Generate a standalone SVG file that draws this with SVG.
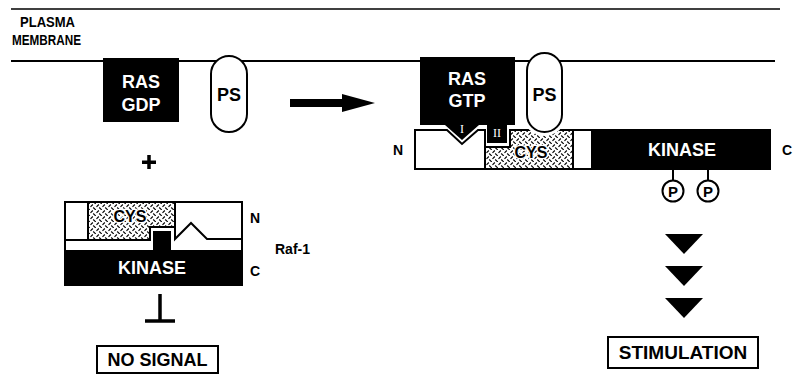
<svg xmlns="http://www.w3.org/2000/svg" width="796" height="384" viewBox="0 0 796 384">
<defs>
<pattern id="hatch" width="6" height="6" patternUnits="userSpaceOnUse">
<rect width="6" height="6" fill="#fff"/>
<path d="M0.5,2.8 L2.8,0.5 M3.2,3.5 L5.8,6" stroke="#000" stroke-width="1.1" fill="none"/>
</pattern>
<style>
text{font-family:"Liberation Sans",Arial,Helvetica,sans-serif;font-weight:bold;}
.lbl{font-size:14px;fill:#000;}
.wt{fill:#fff;text-anchor:middle;}
.bk{fill:#000;text-anchor:middle;}
.ol{stroke:#000;stroke-width:2;}
.rn{font-family:"Liberation Serif","Times New Roman",serif;font-weight:normal;font-size:12px;fill:#fff;text-anchor:middle;}
.cys{font-size:16px;fill:#000;text-anchor:middle;stroke:#fff;stroke-width:2.5;paint-order:stroke;}
</style>
</defs>
<rect width="796" height="384" fill="#fff"/>

<g id="membrane">
<line x1="11" y1="9" x2="780" y2="9" stroke="#000" stroke-width="1.5"/>
<line x1="11" y1="61" x2="775" y2="61" stroke="#000" stroke-width="2"/>
<text x="20" y="27" class="lbl" font-size="14" textLength="55" lengthAdjust="spacingAndGlyphs">PLASMA</text>
<text x="12" y="45" class="lbl" font-size="14" textLength="69" lengthAdjust="spacingAndGlyphs">MEMBRANE</text>
</g>

<g id="ras-gdp">
<rect x="103" y="58" width="76" height="64" fill="#000"/>
<text x="141" y="88" class="wt" font-size="18">RAS</text>
<text x="141" y="111" class="wt" font-size="18">GDP</text>
</g>
<g id="ps-left">
<rect x="211" y="56" width="36" height="76" rx="18" fill="#fff" class="ol"/>
<text x="229" y="101" class="bk" font-size="18">PS</text>
</g>

<g id="connectors">
<rect x="290" y="99" width="55" height="8" fill="#000"/>
<polygon points="342,94 375,103 342,112" fill="#000"/>
<rect x="142" y="160.5" width="14" height="3.5" fill="#000"/>
<rect x="147.25" y="155" width="3.5" height="14" fill="#000"/>
<line x1="160" y1="294" x2="160" y2="322" stroke="#000" stroke-width="3.5"/>
<line x1="145" y1="321" x2="175" y2="321" stroke="#000" stroke-width="3.5"/>
<polygon points="665,234 703,234 684,254" fill="#000"/>
<polygon points="665,266 703,266 684,286" fill="#000"/>
<polygon points="665,298 703,298 684,318" fill="#000"/>
</g>

<g id="raf-left">
<rect x="65" y="202" width="177" height="83" fill="#fff" class="ol"/>
<rect x="65" y="202" width="23" height="38" fill="#fff" class="ol"/>
<polygon points="88,202 175,202 175,227 150,227 150,240 88,240" fill="url(#hatch)" class="ol"/>
<polygon points="175,202 242,202 242,239 207,239 191,223 175,239" fill="#fff" class="ol"/>
<rect x="65" y="250" width="177" height="35" fill="#000"/>
<rect x="153" y="231" width="18" height="20" fill="#000"/>
<text x="130" y="222" class="cys">CYS</text>
<text x="152" y="274" class="wt" font-size="18">KINASE</text>
<text x="250" y="223" class="lbl" font-size="15">N</text>
<text x="250" y="276" class="lbl" font-size="15">C</text>
<text x="275" y="254" class="lbl" font-size="16">Raf-1</text>
</g>

<g id="no-signal">
<rect x="97" y="346" width="121" height="27" fill="#fff" class="ol"/>
<text x="157.5" y="366" class="bk" font-size="18">NO SIGNAL</text>
</g>

<g id="raf-right">
<polygon points="415,130 447,130 462,144 478,130 485,130 485,169 415,169" fill="#fff" class="ol"/>
<polygon points="485,169 485,147 510,147 510,130 573,130 573,169" fill="url(#hatch)" class="ol"/>
<rect x="573" y="130" width="19" height="39" fill="#fff" class="ol"/>
<rect x="592" y="130" width="178" height="39" fill="#000" class="ol"/>
<text x="531" y="158" class="cys">CYS</text>
<text x="682" y="156" class="wt" font-size="18">KINASE</text>
<text x="393" y="155" class="lbl" font-size="15">N</text>
<text x="782" y="155" class="lbl" font-size="15">C</text>
<line x1="673" y1="169" x2="673" y2="180" stroke="#000" stroke-width="2"/>
<line x1="708" y1="169" x2="708" y2="180" stroke="#000" stroke-width="2"/>
<circle cx="673" cy="191" r="10.5" fill="#fff" class="ol"/>
<circle cx="708" cy="191" r="10.5" fill="#fff" class="ol"/>
<text x="673" y="196.5" class="bk" font-size="15">P</text>
<text x="708" y="196.5" class="bk" font-size="15">P</text>
</g>

<g id="ras-gtp">
<path d="M420,57 H515 V125 H507 V143 H487 V125 H479 L462,140 L445,125 H420 Z" fill="#000"/>
<text x="467" y="85" class="wt" font-size="18">RAS</text>
<text x="467" y="107" class="wt" font-size="18">GTP</text>
<text x="462" y="133" class="rn">I</text>
<text x="497" y="137" class="rn">II</text>
</g>

<g id="ps-right">
<path d="M523,110 V114.5 A21.5,21.5 0 0 0 566,114.5 V110 Z" fill="#fff"/>
<rect x="527" y="53" width="35" height="79" rx="17.5" fill="#fff" class="ol"/>
<text x="544.5" y="101" class="bk" font-size="18">PS</text>
</g>

<g id="stimulation">
<rect x="608" y="337" width="150" height="31" fill="#fff" class="ol"/>
<text x="683" y="359" class="bk" font-size="19">STIMULATION</text>
</g>
</svg>
